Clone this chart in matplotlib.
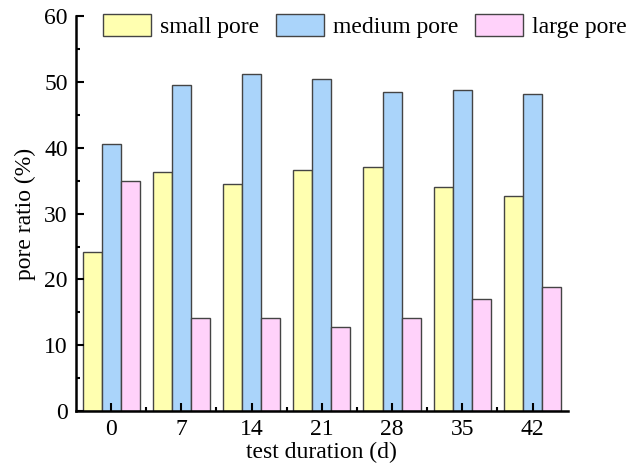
import numpy as np
import matplotlib
matplotlib.use("Agg")
import matplotlib.pyplot as plt
from matplotlib.ticker import MultipleLocator

days = [0, 7, 14, 21, 28, 35, 42]
small_pore = [24.1, 36.3, 34.5, 36.6, 37.1, 34.1, 32.7]
medium_pore = [40.6, 49.5, 51.2, 50.5, 48.5, 48.7, 48.2]
large_pore = [35.0, 14.1, 14.1, 12.8, 14.2, 17.0, 18.8]

plt.rcParams['font.family'] = ['Liberation Serif', 'DejaVu Serif']
plt.rcParams['font.size'] = 17

fig = plt.figure(figsize=(6.28, 4.72), dpi=100)
ax = fig.add_axes([0.121, 0.129, 0.783, 0.837])

x = np.array(days, dtype=float)
w = 1.9
edge = '#444444'
ax.bar(x - w, small_pore, w, color='#FFFFB0', edgecolor=edge, linewidth=1, label='small pore')
ax.bar(x, medium_pore, w, color='#AAD4FA', edgecolor=edge, linewidth=1, label='medium pore')
ax.bar(x + w, large_pore, w, color='#FFD2FA', edgecolor=edge, linewidth=1, label='large pore')

ax.set_xlim(-3.5, 45.5)
ax.set_ylim(0, 60)
ax.set_xticks(days)
ax.set_xticks([d + 3.5 for d in days[:-1]], minor=True)
ax.yaxis.set_major_locator(MultipleLocator(10))
ax.yaxis.set_minor_locator(MultipleLocator(5))
ax.tick_params(which='both', direction='in', width=1.5)
ax.tick_params(which='major', length=6, labelsize=17, pad=6)
ax.tick_params(which='minor', length=3)

for s in ['top', 'right']:
    ax.spines[s].set_visible(False)
for s in ['left', 'bottom']:
    ax.spines[s].set_linewidth(1.8)

ax.set_xlabel('test duration (d)', fontsize=17, labelpad=1)
ax.set_ylabel('pore ratio (%)', fontsize=17, labelpad=6)

ax.legend(loc='upper left', bbox_to_anchor=(0.055, 1.005), ncol=3, frameon=False,
          fontsize=17, handlelength=2.03, handleheight=1.06, columnspacing=0.72,
          handletextpad=0.38, borderaxespad=0, borderpad=0)

fig.savefig('out.png', dpi=100)
